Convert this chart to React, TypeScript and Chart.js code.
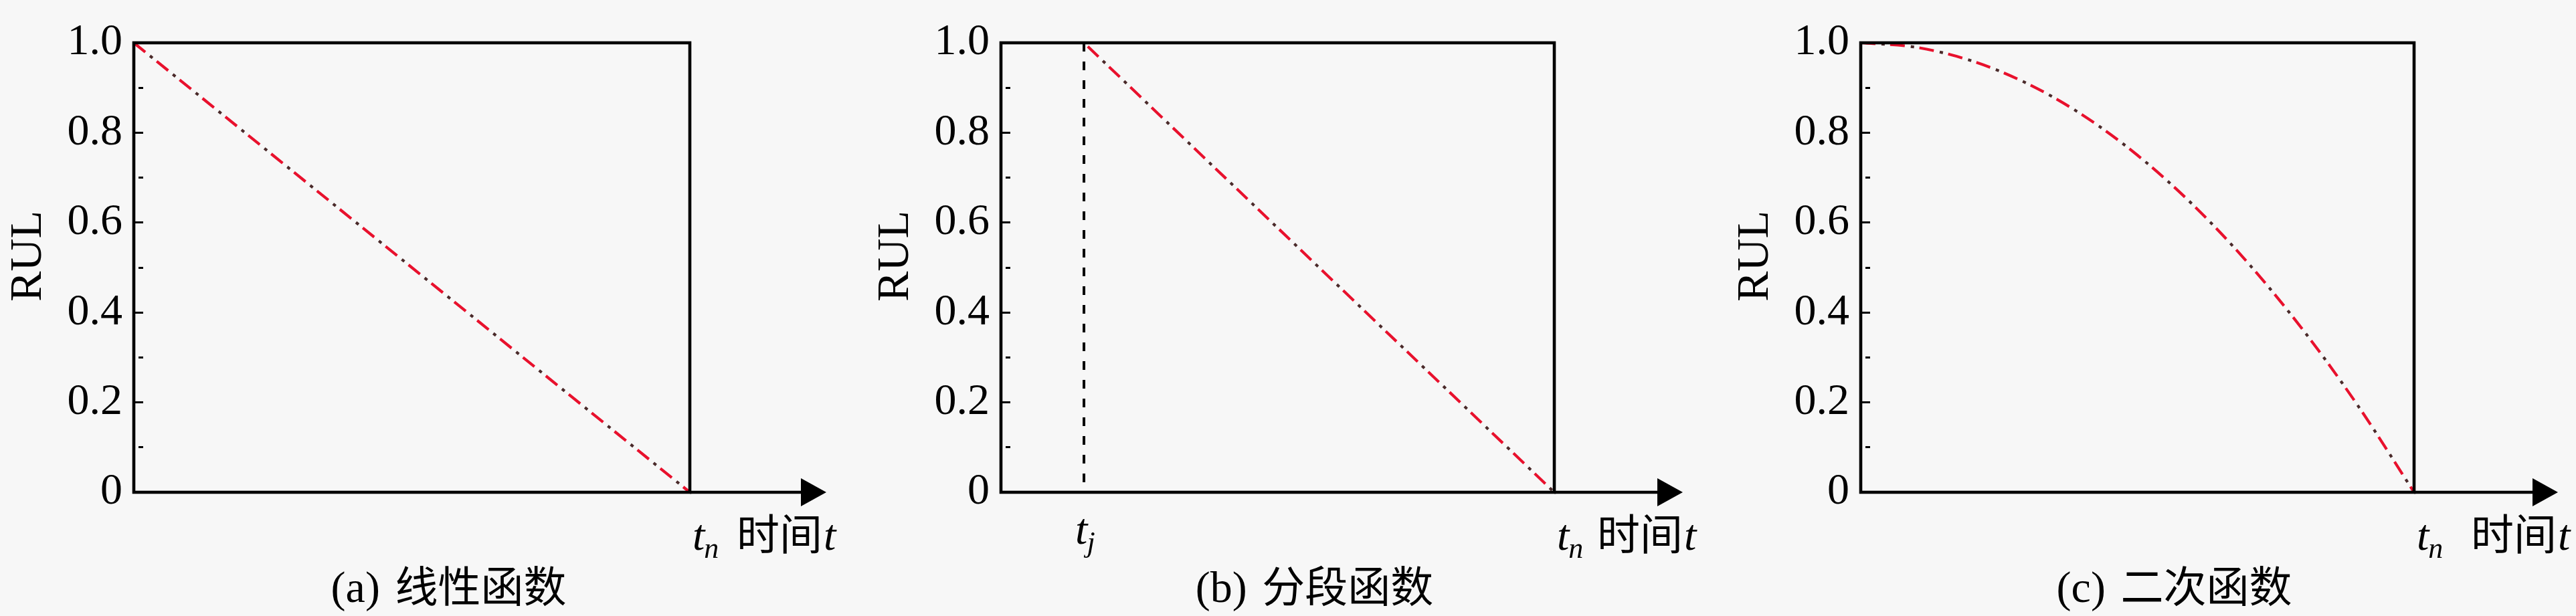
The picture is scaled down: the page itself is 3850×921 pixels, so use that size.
import React, { useEffect, useRef } from 'react';
import { Chart, registerables } from 'chart.js';

Chart.register(...registerables);

// ---- data ----
const LINEAR_T = [0, 1];
const LINEAR_RUL = [1.0, 0];

const T_J = 0.15;
const PIECEWISE_T = [0, 0.15, 1];
const PIECEWISE_RUL = [1.0, 1.0, 0];

const QUADRATIC_T = [0, 0.1, 0.2, 0.3, 0.4, 0.5, 0.6, 0.7, 0.8, 0.9, 1.0];
const QUADRATIC_RUL = [1.0, 0.99, 0.96, 0.91, 0.84, 0.75, 0.64, 0.51, 0.36, 0.19, 0];

const CAPTION_TAGS = ['(a)', '(b)', '(c)'];
const CAPTION_NAMES = ['线性函数', '分段函数', '二次函数'];
const X_LABEL = '时间';
const Y_TITLE = 'RUL';

// ---- layout ----
const H = 921;
const PANELS = [
  { left: 0, width: 1290, areaLeft: 200, areaRight: 1031, arrow: 204, cjkGap: 66 },
  { left: 1290, width: 1290, areaLeft: 206, areaRight: 1033, arrow: 192, cjkGap: 60 },
  { left: 2580, width: 1270, areaLeft: 201, areaRight: 1028, arrow: 215, cjkGap: 81 },
];
const AREA_TOP = 39;
const AREA_BOTTOM = 736;
const Y_AXIS_W = 200;

const SERIF = '"Liberation Serif", "Times New Roman", serif';
const CJK = '"Noto Sans CJK SC", sans-serif';
const RED = '#e8112d';
const DOT = '#4a2a2a';

function curveDatasets(ts: number[], ys: number[], smooth: boolean) {
  const data = ts.map((t, i) => ({ x: t, y: ys[i] }));
  const common = {
    data,
    pointRadius: 0,
    borderWidth: 4.2,
    fill: false,
    clip: false as any,
    cubicInterpolationMode: smooth ? ('monotone' as const) : ('default' as const),
    tension: 0,
  };
  return [
    { ...common, borderColor: RED, borderDash: [22, 22], borderDashOffset: 0 },
    { ...common, borderColor: DOT, borderDash: [5, 39], borderDashOffset: 13 },
  ];
}

function makeDatasets(idx: number) {
  if (idx === 0) return curveDatasets(LINEAR_T, LINEAR_RUL, false);
  if (idx === 1)
    return [
      ...curveDatasets(PIECEWISE_T, PIECEWISE_RUL, false),
      {
        data: [
          { x: T_J, y: 1 },
          { x: T_J, y: 0 },
        ],
        pointRadius: 0,
        borderWidth: 4,
        borderColor: '#000',
        borderDash: [13, 15],
        fill: false,
        clip: false as any,
      },
    ];
  return curveDatasets(QUADRATIC_T, QUADRATIC_RUL, true);
}

function drawSubLabel(ctx: CanvasRenderingContext2D, x: number, base: number, sub: string) {
  ctx.font = `italic 66px ${SERIF}`;
  ctx.textAlign = 'left';
  ctx.textBaseline = 'alphabetic';
  ctx.fillText('t', x, base);
  const tw = ctx.measureText('t').width;
  ctx.font = `italic 44px ${SERIF}`;
  ctx.fillText(sub, x + tw - 1, base + 12);
  return tw + ctx.measureText(sub).width;
}

function makePlugin(idx: number) {
  const p = PANELS[idx];
  return {
    id: 'frame' + idx,
    afterDraw(chart: any) {
      const { ctx, chartArea } = chart;
      const { left, right, top, bottom } = chartArea;
      const xs = chart.scales.x;
      ctx.save();
      ctx.strokeStyle = '#000';
      ctx.fillStyle = '#000';
      ctx.lineWidth = 4.6;
      ctx.lineJoin = 'miter';
      ctx.strokeRect(left, top, right - left, bottom - top);
      const tip = right + p.arrow;
      ctx.beginPath();
      ctx.moveTo(right, bottom);
      ctx.lineTo(tip - 36, bottom);
      ctx.stroke();
      ctx.beginPath();
      ctx.moveTo(tip, bottom);
      ctx.lineTo(tip - 38, bottom - 21);
      ctx.lineTo(tip - 38, bottom + 21);
      ctx.closePath();
      ctx.fill();

      // x label: t_n 时间t
      const xn = xs.getPixelForValue(1) + 4;
      const base = 822;
      drawSubLabel(ctx, xn, base, 'n');
      ctx.font = `64px ${CJK}`;
      ctx.textAlign = 'left';
      ctx.fillText(X_LABEL, xn + p.cjkGap, base);
      const cw = ctx.measureText(X_LABEL).width;
      ctx.font = `italic 66px ${SERIF}`;
      ctx.fillText('t', xn + p.cjkGap + cw + 2, base);

      // t_j label
      if (idx === 1) {
        const xj = xs.getPixelForValue(T_J);
        drawSubLabel(ctx, xj - 13, 813, 'j');
      }

      // caption
      const cx = (left + right) / 2 + 55;
      const cb = 900;
      ctx.font = `66px ${SERIF}`;
      const tag = CAPTION_TAGS[idx] + ' ';
      const w1 = ctx.measureText(tag).width;
      ctx.font = `64px ${CJK}`;
      const w2 = ctx.measureText(CAPTION_NAMES[idx]).width;
      const sx = cx - (w1 + w2 + 6) / 2;
      ctx.font = `66px ${SERIF}`;
      ctx.fillText(tag, sx, cb);
      ctx.font = `64px ${CJK}`;
      ctx.fillText(CAPTION_NAMES[idx], sx + w1 + 6, cb);
      ctx.restore();
    },
  };
}

function Panel({ idx }: { idx: number }) {
  const ref = useRef<HTMLCanvasElement>(null);
  const p = PANELS[idx];
  useEffect(() => {
    const chart = new Chart(ref.current as HTMLCanvasElement, {
      type: 'line',
      data: { datasets: makeDatasets(idx) as any },
      options: {
        animation: false,
        responsive: false,
        devicePixelRatio: 1,
        events: [],
        layout: {
          padding: {
            left: p.areaLeft - Y_AXIS_W,
            right: p.width - p.areaRight,
            top: AREA_TOP,
            bottom: H - AREA_BOTTOM,
          },
        },
        plugins: {
          legend: { display: false },
          tooltip: { enabled: false },
        },
        scales: {
          x: { type: 'linear', min: 0, max: 1, display: false },
          y: {
            type: 'linear',
            min: 0,
            max: 1,
            afterFit: (s: any) => {
              s.width = Y_AXIS_W;
            },
            border: { display: false },
            grid: {
              drawOnChartArea: false,
              drawTicks: true,
              tickLength: -14,
              tickWidth: 3,
              tickColor: '#000',
              tickBorderDash: (c: any) => {
                const k = Math.round((c.tick ? c.tick.value : 0) * 10);
                return k % 2 === 1 ? [7, 100] : [];
              },
            },
            ticks: {
              stepSize: 0.1,
              autoSkip: false,
              padding: 31,
              color: '#000',
              font: { family: SERIF, size: 66, lineHeight: 1 },
              callback: (v: any) => {
                const k = Math.round(Number(v) * 10);
                if (k % 2 === 1) return '';
                if (k === 0) return '0';
                return (k / 10).toFixed(1);
              },
            },
            title: {
              display: true,
              // leading spaces lift the rotated title slightly, as in the reference
              text: '  ' + Y_TITLE,
              color: '#000',
              font: { family: SERIF, size: 68, lineHeight: 1 },
              padding: 9,
            },
          },
        },
      },
      plugins: [makePlugin(idx)],
    } as any);
    return () => chart.destroy();
  }, []);
  return (
    <canvas
      ref={ref}
      width={p.width}
      height={H}
      style={{ position: 'absolute', left: p.left, top: 0, width: p.width, height: H }}
    />
  );
}

export default function App() {
  return (
    <div
      style={{
        position: 'absolute',
        left: 0,
        top: 0,
        width: 3850,
        height: H,
        background: '#f7f7f7',
        overflow: 'hidden',
      }}
    >
      <Panel idx={0} />
      <Panel idx={1} />
      <Panel idx={2} />
    </div>
  );
}
